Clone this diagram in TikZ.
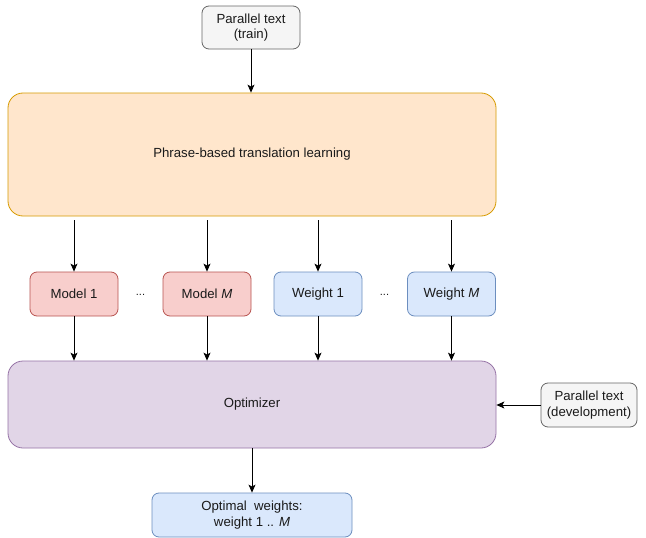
\documentclass[tikz,border=0pt]{standalone}
\usepackage{fontspec}
\setmainfont{Liberation Sans}
\usetikzlibrary{arrows.meta}
\definecolor{grayfill}{HTML}{F5F5F5}
\definecolor{graydraw}{HTML}{666666}
\definecolor{orangefill}{HTML}{FFE6CC}
\definecolor{orangedraw}{HTML}{D79B00}
\definecolor{redfill}{HTML}{F8CECC}
\definecolor{reddraw}{HTML}{B85450}
\definecolor{bluefill}{HTML}{DAE8FC}
\definecolor{bluedraw}{HTML}{6C8EBF}
\definecolor{purplefill}{HTML}{E1D5E7}
\definecolor{purpledraw}{HTML}{9673A6}
\definecolor{textcol}{HTML}{1A1A1A}
\tikzset{
  box/.style={draw, line width=0.8pt, rounded corners=7pt, inner sep=0pt,
    align=center, text=textcol, font=\fontsize{13.2}{15.5}\selectfont},
  graybox/.style={box, fill=grayfill, draw=graydraw},
  redbox/.style={box, fill=redfill, draw=reddraw, minimum width=88pt, minimum height=44pt},
  bluebox/.style={box, fill=bluefill, draw=bluedraw, minimum width=88pt, minimum height=44pt},
  bigbox/.style={box, rounded corners=15pt},
  flow/.style={draw=black, line width=0.8pt, -{Stealth[length=8pt,width=7pt,inset=2pt]}},
  dots/.style={text=textcol, font=\fontsize{11}{13}\selectfont}
}
\begin{document}
\begin{tikzpicture}[x=1pt, y=-1pt]
  \useasboundingbox (0,0) rectangle (646,538);
  \fill[white] (0,0) rectangle (646,538);

  % inputs
  \node[graybox, minimum width=98pt, minimum height=43pt] (train) at (251,27.5)
    {Parallel text\\(train)};
  \node[graybox, minimum width=96pt, minimum height=44pt] (dev) at (589,405)
    {Parallel text\\(development)};

  % learning stage
  \node[bigbox, fill=orangefill, draw=orangedraw, minimum width=488pt, minimum height=123pt]
    (learn) at (252,154.5) {Phrase-based translation learning};

  % models and weights
  \node[redbox] (m1) at (74,294) {Model 1};
  \node[redbox] (mM) at (207,294) {Model \textit{M}};
  \node[bluebox] (w1) at (318,294) {Weight 1};
  \node[bluebox] (wM) at (451.5,294) {Weight \textit{M}};
  \node[dots] (d1) at (140.5,295) {...};
  \node[dots] (d2) at (384.5,295) {...};

  % optimizer
  \node[bigbox, fill=purplefill, draw=purpledraw, minimum width=488pt, minimum height=87pt]
    (opt) at (252,404.5) {Optimizer};

  % result
  \node[box, fill=bluefill, draw=bluedraw, minimum width=200pt, minimum height=44pt]
    (out) at (252,515) {Optimal\ \ weights:\\weight 1 .. \textit{M}};

  % connectors
  \draw[flow] (train) -- (train |- learn.north);
  \foreach \n in {m1,mM,w1,wM}{
    \draw[flow, shorten <=4pt] (\n.north |- learn.south) -- (\n.north);
    \draw[flow] (\n.south) -- (\n.south |- opt.north);
  }
  \draw[flow] (dev.west) -- (dev.west -| opt.east);
  \draw[flow] (out.north |- opt.south) -- (out.north);
\end{tikzpicture}
\end{document}
